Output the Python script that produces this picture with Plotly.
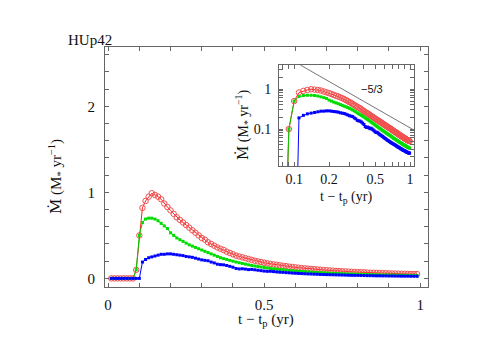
import numpy as np
import plotly.graph_objects as go

# ---------------- data ----------------
t = [round(0.01 * i, 2) for i in range(1, 101)]

red = [0, 0, 0, 0, 0, 0, 0, 0,
       0.10, 0.50, 0.82, 0.90, 0.95, 0.99, 0.97, 0.95, 0.92, 0.87, 0.83,
       0.79, 0.75, 0.71, 0.68, 0.65, 0.62, 0.59, 0.56, 0.53, 0.50,
       0.47, 0.45, 0.42, 0.40, 0.38, 0.36, 0.345, 0.33, 0.31, 0.295,
       0.28, 0.265, 0.255, 0.245, 0.235, 0.225, 0.215, 0.205, 0.197, 0.19,
       0.182, 0.175, 0.169, 0.163, 0.157, 0.152, 0.147, 0.142, 0.137, 0.133,
       0.128, 0.124, 0.120, 0.117, 0.113, 0.110, 0.107, 0.104, 0.101, 0.098,
       0.095, 0.092, 0.090, 0.087, 0.085, 0.083, 0.081, 0.079, 0.077, 0.075,
       0.073, 0.071, 0.070, 0.068, 0.066, 0.065, 0.064, 0.062, 0.061, 0.060,
       0.058, 0.057, 0.056, 0.055, 0.054, 0.053, 0.052, 0.051, 0.050, 0.050]

green = [0, 0, 0, 0, 0, 0, 0, 0,
         0.10, 0.50, 0.65, 0.69, 0.70, 0.70, 0.69, 0.67, 0.64, 0.61, 0.58,
         0.53, 0.50, 0.47, 0.45, 0.43, 0.41, 0.39, 0.375, 0.36, 0.345,
         0.33, 0.315, 0.30, 0.285, 0.27, 0.255, 0.24, 0.23, 0.22, 0.21,
         0.20, 0.19, 0.182, 0.174, 0.166, 0.158, 0.151, 0.144, 0.138, 0.132,
         0.126, 0.121, 0.116, 0.111, 0.107, 0.103, 0.099, 0.095, 0.092, 0.089,
         0.086, 0.083, 0.080, 0.078, 0.075, 0.073, 0.071, 0.069, 0.067, 0.065,
         0.063, 0.061, 0.059, 0.058, 0.056, 0.055, 0.053, 0.052, 0.051, 0.049,
         0.048, 0.047, 0.046, 0.045, 0.044, 0.043, 0.042, 0.041, 0.040, 0.040,
         0.039, 0.038, 0.037, 0.037, 0.036, 0.035, 0.035, 0.034, 0.034, 0.033]

blue = [0, 0, 0, 0, 0, 0, 0, 0, 0, 0,
        0.19, 0.22, 0.24, 0.25, 0.26, 0.27, 0.28, 0.28, 0.285,
        0.285, 0.28, 0.275, 0.27, 0.265, 0.255, 0.25, 0.245, 0.235, 0.225,
        0.215, 0.21, 0.205, 0.19, 0.18, 0.165, 0.16, 0.158, 0.15, 0.14,
        0.13, 0.115, 0.11, 0.112, 0.108, 0.102, 0.105, 0.1, 0.095, 0.09,
        0.085, 0.082, 0.083, 0.079, 0.075, 0.072, 0.070, 0.067, 0.065, 0.062,
        0.060, 0.058, 0.056, 0.054, 0.052, 0.051, 0.049, 0.048, 0.046, 0.045,
        0.044, 0.043, 0.042, 0.041, 0.040, 0.039, 0.038, 0.037, 0.036, 0.035,
        0.035, 0.034, 0.033, 0.032, 0.032, 0.031, 0.030, 0.030, 0.029, 0.029,
        0.028, 0.028, 0.027, 0.027, 0.026, 0.026, 0.026, 0.025, 0.025, 0.025]

# reference power-law line (slope -5/3) endpoints for inset
ref_x = [0.113, 1.08]
ref_y = [4.0, 0.094]
ref_label = "\u22125/3"

main_xticks = [0, 0.1, 0.2, 0.3, 0.4, 0.5, 0.6, 0.7, 0.8, 0.9, 1.0]
main_xtext = ["0", "", "", "", "", "0.5", "", "", "", "", "1"]
main_yticks = [0, 0.2, 0.4, 0.6, 0.8, 1.0, 1.2, 1.4, 1.6, 1.8, 2.0, 2.2, 2.4, 2.6]
main_ytext = ["0", "", "", "", "", "1", "", "", "", "", "2", "", "", ""]

ins_xticks = [0.08, 0.09, 0.1, 0.2, 0.3, 0.4, 0.5, 0.6, 0.7, 0.8, 0.9, 1.0]
ins_xtext = ["", "", "0.1", "0.2", "", "", "0.5", "", "", "", "", "1"]
ins_yticks = [0.02, 0.03, 0.04, 0.05, 0.06, 0.07, 0.08, 0.09, 0.1,
              0.2, 0.3, 0.4, 0.5, 0.6, 0.7, 0.8, 0.9, 1, 2, 3]
ins_ytext = ["", "", "", "", "", "", "", "", "0.1",
             "", "", "", "", "", "", "", "", "1", "", ""]

# ---------------- figure ----------------
OFF = 8                      # page body margin in the browser
W, H = 501 - OFF, 355 - OFF
SERIF = "Liberation Serif, Times New Roman, serif"
FRAME = "#666666"

def px(x):
    return (x - OFF) / W

def py(y):
    return 1 - (y - OFF) / H

fig = go.Figure()

# clamp zeros on the log inset so the rising edge is drawn down to the frame
def for_log(v):
    a = np.array(v, dtype=float)
    return np.where(a > 0, a, 1e-6)

series = [
    (red, dict(symbol="circle-open", size=5.5, color="#f05050", line=dict(width=1)), "#ff2020"),
    (green, dict(symbol="square", size=3, color="#00dd00"), "#00cc00"),
    (blue, dict(symbol="square", size=3, color="#0000ff"), "#0000ff"),
]

for vals, mk, lc in series:
    fig.add_trace(go.Scatter(x=t, y=vals, mode="lines+markers", marker=mk,
                             line=dict(color=lc, width=1), xaxis="x", yaxis="y",
                             showlegend=False, cliponaxis=True))

for vals, mk, lc in series:
    fig.add_trace(go.Scatter(x=t, y=for_log(vals), mode="lines+markers", marker=dict(mk),
                             line=dict(color=lc, width=1), xaxis="x2", yaxis="y2",
                             showlegend=False, cliponaxis=True))

fig.add_trace(go.Scatter(x=ref_x, y=ref_y, mode="lines",
                         line=dict(color="#777777", width=1),
                         xaxis="x2", yaxis="y2", showlegend=False))

axis_common = dict(showline=True, linecolor=FRAME, linewidth=1, mirror="ticks",
                   ticks="inside", ticklen=4, tickcolor=FRAME, tickwidth=1,
                   showgrid=False, zeroline=False,
                   tickfont=dict(family=SERIF, size=15, color="#111"))

fig.update_layout(
    width=W, height=H,
    margin=dict(l=0, r=0, t=0, b=0),
    paper_bgcolor="white", plot_bgcolor="white",
    xaxis=dict(domain=[px(105), px(428)], range=[-0.01, 1.025], anchor="y",
               tickmode="array", tickvals=main_xticks, ticktext=main_xtext,
               ticklabelstandoff=4, **axis_common),
    yaxis=dict(domain=[py(287), py(47)], range=[-0.1, 2.69], anchor="x",
               tickmode="array", tickvals=main_yticks, ticktext=main_ytext,
               ticklabelstandoff=6, **axis_common),
    xaxis2=dict(domain=[px(279), px(414)], type="log",
                range=[np.log10(0.074), np.log10(1.08)], anchor="y2",
                tickmode="array", tickvals=ins_xticks, ticktext=ins_xtext,
                ticklabelstandoff=0, **axis_common),
    yaxis2=dict(domain=[py(166), py(65)], type="log",
                range=[np.log10(0.0119), np.log10(4.0)], anchor="x2",
                tickmode="array", tickvals=ins_yticks, ticktext=ins_ytext,
                ticklabelstandoff=4, **axis_common),
)
fig.update_xaxes(tickfont=dict(size=14), selector=dict(anchor="y2"))
fig.update_yaxes(tickfont=dict(size=14), selector=dict(anchor="x2"))

ylab = ("<span style='font-family:DejaVu Serif'>\u1E40</span> "
        "(M<sub>*</sub> yr<sup>\u22121</sup>)")
xlab = "t \u2212 t<sub>p</sub> (yr)"

annots = [
    dict(x=px(66), y=py(40), text="HUp42", xanchor="left", yanchor="middle",
         font=dict(family=SERIF, size=15, color="#111")),
    dict(x=px(56), y=py(177), text=ylab, textangle=-90, xanchor="center", yanchor="middle",
         font=dict(family=SERIF, size=15, color="#111")),
    dict(x=px(266), y=py(320), text=xlab, xanchor="center", yanchor="middle",
         font=dict(family=SERIF, size=15, color="#111")),
    dict(x=px(243), y=py(125), text=ylab, textangle=-90, xanchor="center", yanchor="middle",
         font=dict(family=SERIF, size=14, color="#111")),
    dict(x=px(346), y=py(197), text=xlab, xanchor="center", yanchor="middle",
         font=dict(family=SERIF, size=14, color="#111")),
    dict(x=px(372), y=py(89), text=ref_label, xanchor="center", yanchor="middle",
         font=dict(family="Liberation Sans, Arial, sans-serif", size=11, color="#111")),
]
for a in annots:
    fig.add_annotation(xref="paper", yref="paper", showarrow=False, **a)

fig.write_html("out.html")
